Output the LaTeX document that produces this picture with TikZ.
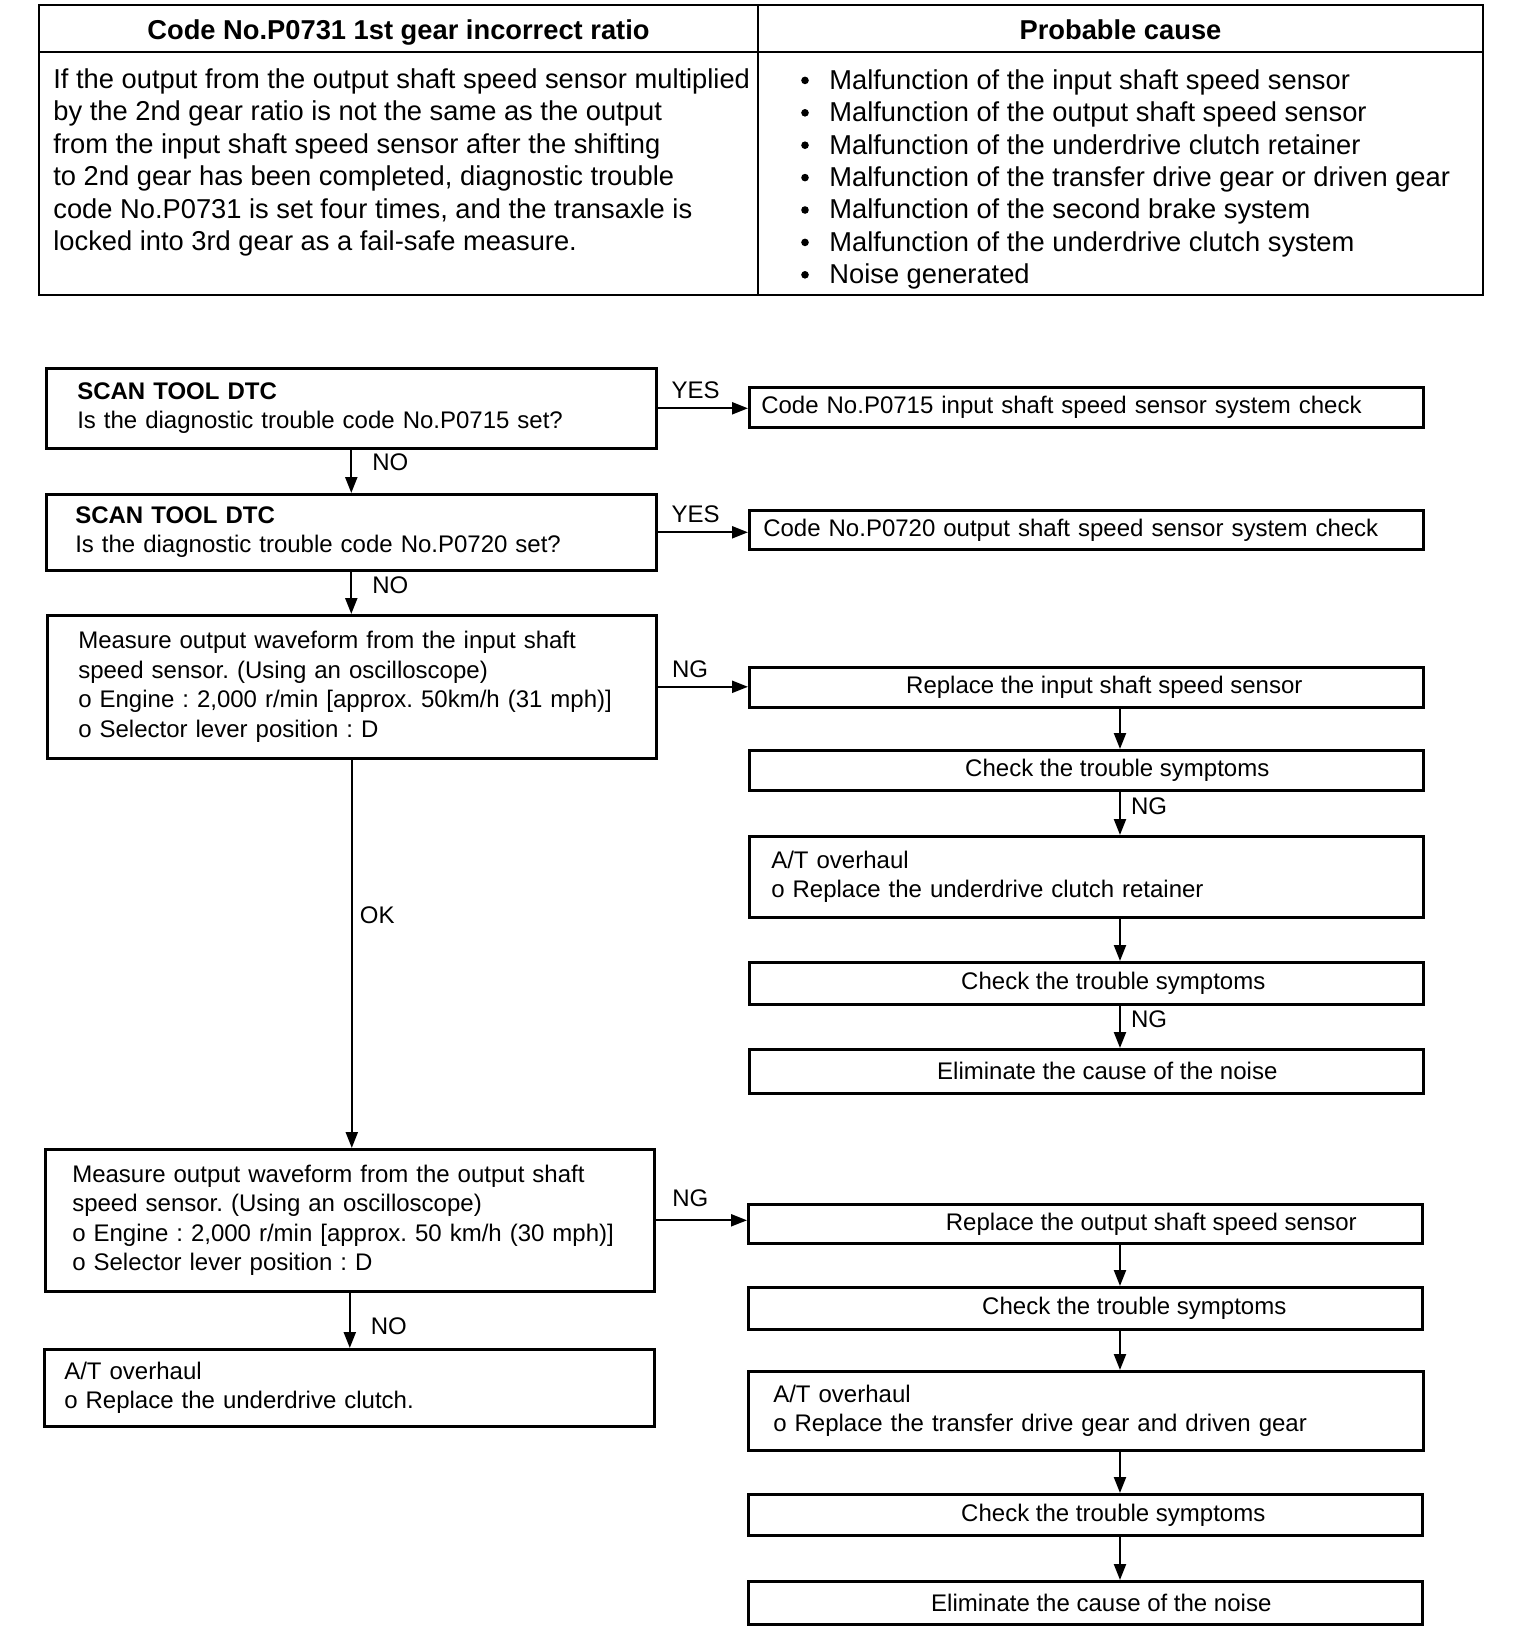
\documentclass[tikz,border=0pt]{standalone}
\usepackage{fontspec}
\setmainfont{Liberation Sans}
\usetikzlibrary{arrows.meta}
\frenchspacing
\newcommand\flowfont{\fontsize{12}{14.7}\selectfont}
\newcommand\tabfont{\fontsize{13.65}{16.2}\selectfont}
\tikzset{
  box/.style={draw, line width=1.3pt, anchor=north west, inner ysep=0pt, font=\flowfont},
  tbox/.style={box, align=left},
  cbox/.style={box, inner xsep=0pt, minimum width=337pt},
  arr/.style={line width=1.1pt, -{Triangle[length=8pt,width=6pt]}},
  lab/.style={font=\flowfont, inner sep=1pt},
}
\begin{document}
\begin{tikzpicture}[x=1pt,y=-1pt]
\useasboundingbox (0,0) rectangle (768,823);

% table at the top
\draw[line width=1pt] (19.5,2.5) rectangle (741.5,147.5) (19.5,26)--(741.5,26) (379,2.5)--(379,147.5);
\node[font=\tabfont\bfseries, anchor=base] (head1) at (199.25,19.5) {Code No.P0731 1st gear incorrect ratio};
\node[font=\tabfont\bfseries, anchor=base] (head2) at (560.25,19.5) {Probable cause};
\node[font=\tabfont, anchor=north west, align=left, inner sep=0pt] (desc) at (26.5,34.2) {If the output from the output shaft speed sensor multiplied\\
by the 2nd gear ratio is not the same as the output\\
from the input shaft speed sensor after the shifting\\
to 2nd gear has been completed, diagnostic trouble\\
code No.P0731 is set four times, and the transaxle is\\
locked into 3rd gear as a fail-safe measure.};
\foreach \txt [count=\i] in {Malfunction of the input shaft speed sensor,
  Malfunction of the output shaft speed sensor,
  Malfunction of the underdrive clutch retainer,
  Malfunction of the transfer drive gear or driven gear,
  Malfunction of the second brake system,
  Malfunction of the underdrive clutch system,
  Noise generated}
{
  \fill (402.5,{40.2+16.2*(\i-1)}) circle (1.9pt);
  \node[font=\tabfont, anchor=base west, inner sep=0pt] (cause\i) at (414.5,{44.6+16.2*(\i-1)}) {\txt};
}

% left column
\node[tbox, minimum height=40pt, text width=274pt, inner xsep=15.5pt] (scan1) at (22.5,183.5)
  {\textbf{SCAN TOOL DTC}\\Is the diagnostic trouble code No.P0715 set?};
\node[tbox, minimum height=38pt, text width=276pt, inner xsep=14.5pt] (scan2) at (22.5,246.5)
  {\textbf{SCAN TOOL DTC}\\Is the diagnostic trouble code No.P0720 set?};
\node[tbox, minimum height=71.5pt, text width=273.5pt, inner xsep=15.5pt] (wave1) at (23,307)
  {Measure output waveform from the input shaft\\speed sensor. (Using an oscilloscope)\\o Engine : 2,000 r/min [approx. 50km/h (31 mph)]\\o Selector lever position : D};
\node[tbox, minimum height=71pt, text width=277.5pt, inner xsep=13.5pt] (wave2) at (22,574)
  {Measure output waveform from the output shaft\\speed sensor. (Using an oscilloscope)\\o Engine : 2,000 r/min [approx. 50 km/h (30 mph)]\\o Selector lever position : D};
\node[tbox, minimum height=38.5pt, text width=285pt, inner xsep=10pt] (ovh3) at (21.5,674)
  {A/T overhaul\\o Replace the underdrive clutch.};

% right column
\node[tbox, minimum height=20pt, text width=325pt, inner xsep=6pt] (chk1) at (374,193)
  {Code No.P0715 input shaft speed sensor system check};
\node[tbox, minimum height=19.5pt, text width=323pt, inner xsep=7pt] (chk2) at (374,254.5)
  {Code No.P0720 output shaft speed sensor system check};
\node[cbox, minimum height=20pt] (rep1) at (374,333) {\hspace*{18pt}Replace the input shaft speed sensor};
\node[cbox, minimum height=20pt] (sym1) at (374,374.5) {\hspace*{31pt}Check the trouble symptoms};
\node[tbox, minimum height=40.5pt, text width=315pt, inner xsep=11pt] (ovh1) at (374,417.5)
  {A/T overhaul\\o Replace the underdrive clutch retainer};
\node[cbox, minimum height=21pt] (sym2) at (374,480.5) {\hspace*{27pt}Check the trouble symptoms};
\node[cbox, minimum height=22pt] (elim1) at (374,524) {\hspace*{21pt}Eliminate the cause of the noise};
\node[cbox, minimum height=19.5pt] (rep2) at (373.5,601.5) {\hspace*{66pt}Replace the output shaft speed sensor};
\node[cbox, minimum height=21pt] (sym3) at (373.5,643) {\hspace*{49pt}Check the trouble symptoms};
\node[tbox, minimum height=39.5pt, text width=312.5pt, inner xsep=12.5pt] (ovh2) at (373.5,685)
  {A/T overhaul\\o Replace the transfer drive gear and driven gear};
\node[cbox, minimum height=20.5pt] (sym4) at (373.5,746.5) {\hspace*{28pt}Check the trouble symptoms};
\node[cbox, minimum height=21.5pt] (elim2) at (373.5,790) {\hspace*{16pt}Eliminate the cause of the noise};

\coordinate (rx) at (560,0);

% connectors
\draw[arr] (scan1.east) -- (scan1.east -| chk1.west) node[lab, pos=0.42, above=3pt] {YES};
\draw[arr] (scan1.south) -- (scan2.north) node[lab, pos=0.28, right=9pt] {NO};
\draw[arr] (scan2.east) -- (scan2.east -| chk2.west) node[lab, pos=0.42, above=3pt] {YES};
\draw[arr] (scan2.south) -- (scan2.south |- wave1.north) node[lab, pos=0.33, right=9pt] {NO};
\draw[arr] (wave1.east) -- (wave1.east -| rep1.west) node[lab, pos=0.36, above=3pt] {NG};
\draw[arr] (rep1.south -| rx) -- (sym1.north -| rx);
\draw[arr] (sym1.south -| rx) -- (ovh1.north -| rx) node[lab, pos=0.33, right=4pt] {NG};
\draw[arr] (ovh1.south -| rx) -- (sym2.north -| rx);
\draw[arr] (sym2.south -| rx) -- (elim1.north -| rx) node[lab, pos=0.31, right=4pt] {NG};
\draw[arr] (wave1.south) -- (wave1.south |- wave2.north) node[lab, pos=0.4, right=2.5pt] {OK};
\draw[arr] (wave2.east) -- (wave2.east -| rep2.west) node[lab, pos=0.38, above=5pt] {NG};
\draw[arr] (rep2.south -| rx) -- (sym3.north -| rx);
\draw[arr] (sym3.south -| rx) -- (ovh2.north -| rx);
\draw[arr] (ovh2.south -| rx) -- (sym4.north -| rx);
\draw[arr] (sym4.south -| rx) -- (elim2.north -| rx);
\draw[arr] (wave2.south) -- (wave2.south |- ovh3.north) node[lab, pos=0.6, right=9pt] {NO};
\end{tikzpicture}
\end{document}
